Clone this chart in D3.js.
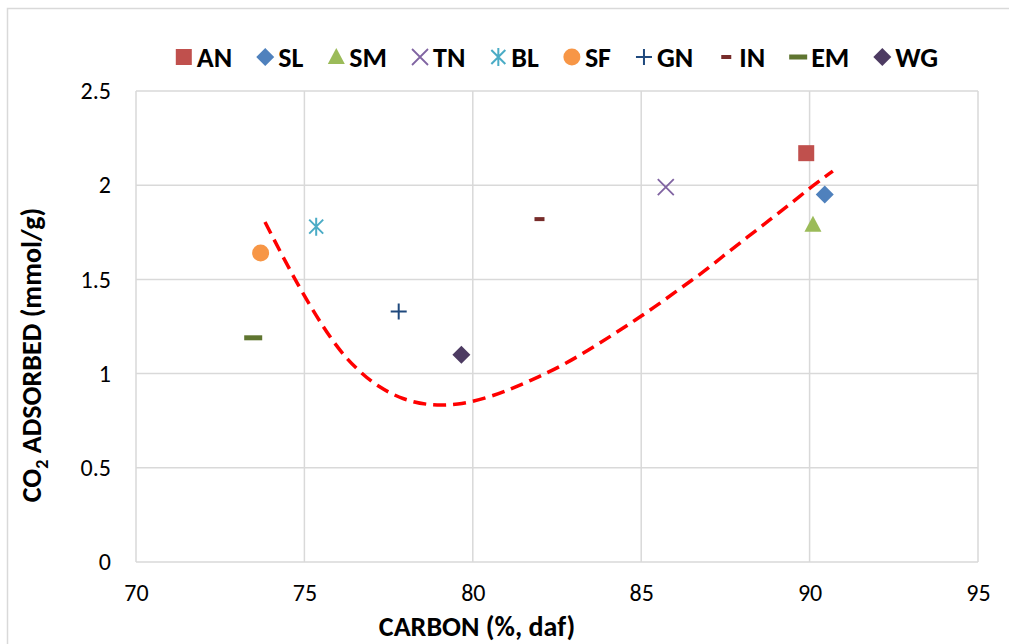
<!DOCTYPE html>
<html>
<head>
<meta charset="utf-8">
<script src="https://cdn.jsdelivr.net/npm/d3@7"></script>
<style>
  html, body { margin: 0; padding: 0; background: #fff; }
  svg { display: block; }
  text { font-family: Carlito, Lato, "Open Sans", sans-serif; fill: #000; }
</style>
</head>
<body>
<svg id="chart" width="1009" height="644"></svg>
<script>
// Sample codes, carbon content (% daf) and CO2 uptake (mmol/g)
const samples = ["AN", "SL", "SM", "TN", "BL", "SF", "GN", "IN", "EM", "WG"];
const carbon  = [89.9, 90.45, 90.1, 85.73, 75.35, 73.7, 77.8, 81.98, 73.48, 79.66];
const co2     = [2.17, 1.95, 1.79, 1.99, 1.78, 1.64, 1.33, 1.82, 1.19, 1.10];
const markerShapes = ["square", "diamond", "triangle", "cross", "star", "circle", "plus", "dash", "bar", "diamond"];
const markerColors = ["#C0504D", "#4F81BD", "#9BBB59", "#8064A2", "#4BACC6", "#F79646", "#1F497D", "#772C2A", "#5F7530", "#4D3B62"];

// Trend curve
const trendCarbon = [73.83, 74.79, 75.86, 76.57, 77.19, 77.94, 78.74, 79.54, 80.43, 81.21, 81.95, 82.69, 83.44, 84.15, 84.83, 85.49, 86.17, 86.85, 87.51, 88.16, 88.76, 89.35, 90.12, 90.69];
const trendCO2    = [1.805, 1.47, 1.157, 1.019, 0.929, 0.86, 0.83, 0.833, 0.87, 0.924, 0.982, 1.046, 1.125, 1.205, 1.285, 1.364, 1.454, 1.539, 1.635, 1.725, 1.808, 1.89, 2.001, 2.075];

const xTicks = [70, 75, 80, 85, 90, 95];
const yTicks = [0, 0.5, 1, 1.5, 2, 2.5];

const svg = d3.select("#chart");
const plot = { left: 136, right: 978, top: 91, bottom: 562 };

const x = d3.scaleLinear().domain([70, 95]).range([plot.left, plot.right]);
const y = d3.scaleLinear().domain([0, 2.5]).range([plot.bottom, plot.top]);

// Chart area frame
svg.append("rect")
  .attr("x", 7.5).attr("y", 8.5)
  .attr("width", 1020).attr("height", 660)
  .attr("fill", "none").attr("stroke", "#D9D9D9").attr("stroke-width", 1.5);

// Gridlines
const grid = svg.append("g").attr("stroke", "#D9D9D9").attr("stroke-width", 1.5);
grid.selectAll("line.h").data(yTicks).join("line")
  .attr("x1", plot.left).attr("x2", plot.right)
  .attr("y1", d => y(d)).attr("y2", d => y(d));
grid.selectAll("line.v").data(xTicks).join("line")
  .attr("y1", plot.top).attr("y2", plot.bottom)
  .attr("x1", d => x(d)).attr("x2", d => x(d));

// Axes (labels only; lines come from the grid)
const xAxis = svg.append("g")
  .attr("transform", `translate(0,${plot.bottom})`)
  .call(d3.axisBottom(x).tickValues(xTicks).tickSize(0).tickPadding(22).tickFormat(d3.format("d")));
const yAxis = svg.append("g")
  .attr("transform", `translate(${plot.left},0)`)
  .call(d3.axisLeft(y).tickValues(yTicks).tickSize(0).tickPadding(25).tickFormat(d => String(d)));
[xAxis, yAxis].forEach(a => {
  a.select(".domain").remove();
  a.selectAll("text").attr("font-size", 24).attr("fill", "#000")
    .style("font-family", "Carlito, Lato, sans-serif");
});

// Axis titles
svg.append("text")
  .attr("x", 477).attr("y", 636)
  .attr("text-anchor", "middle")
  .attr("font-size", 28).attr("font-weight", "bold")
  .text("CARBON (%, daf)");

const yTitle = svg.append("text")
  .attr("transform", "translate(41,355) rotate(-90)")
  .attr("text-anchor", "middle")
  .attr("font-size", 28).attr("font-weight", "bold");
yTitle.append("tspan").text("CO");
yTitle.append("tspan").attr("font-size", 18).attr("dy", 7).text("2");
yTitle.append("tspan").attr("dy", -7).text(" ADSORBED (mmol/g)");

// Marker drawing
function drawMarker(g, shape, color) {
  switch (shape) {
    case "square":
      g.append("rect").attr("x", -8).attr("y", -8).attr("width", 16).attr("height", 16).attr("fill", color);
      break;
    case "diamond":
      g.append("path").attr("d", "M0,-9L9,0L0,9L-9,0Z").attr("fill", color);
      break;
    case "triangle":
      g.append("path").attr("d", "M0,-9L8.5,7L-8.5,7Z").attr("fill", color);
      break;
    case "circle":
      g.append("circle").attr("r", 8.5).attr("fill", color);
      break;
    case "cross":
      g.append("path").attr("d", "M-8,-8L8,8M-8,8L8,-8").attr("stroke", color).attr("stroke-width", 1.8).attr("fill", "none");
      break;
    case "star":
      g.append("path").attr("d", "M-7,-7L7,7M-7,7L7,-7M0,-9L0,9").attr("stroke", color).attr("stroke-width", 2).attr("fill", "none");
      break;
    case "plus":
      g.append("path").attr("d", "M-8,0L8,0M0,-8L0,8").attr("stroke", color).attr("stroke-width", 2).attr("fill", "none");
      break;
    case "dash":
      g.append("rect").attr("x", -5).attr("y", -2).attr("width", 10).attr("height", 4).attr("fill", color);
      break;
    case "bar":
      g.append("rect").attr("x", -9).attr("y", -2.5).attr("width", 18).attr("height", 5).attr("fill", color);
      break;
  }
}

// Trend line
const trend = trendCarbon.map((c, i) => [c, trendCO2[i]]);
svg.append("path")
  .datum(trend)
  .attr("fill", "none")
  .attr("stroke", "#FF0000")
  .attr("stroke-width", 3.5)
  .attr("stroke-dasharray", "13,7")
  .attr("d", d3.line().x(d => x(d[0])).y(d => y(d[1])).curve(d3.curveBasis));

// Data points
samples.forEach((s, i) => {
  const g = svg.append("g").attr("transform", `translate(${x(carbon[i])},${y(co2[i])})`);
  drawMarker(g, markerShapes[i], markerColors[i]);
});

// Legend, laid out left to right and centred over the plot
const legend = svg.append("g");
const items = samples.map((s, i) => {
  const g = legend.append("g");
  drawMarker(g, markerShapes[i], markerColors[i]);
  const t = g.append("text").attr("x", 13).attr("y", 10)
    .attr("font-size", 28).attr("font-weight", "bold").text(s);
  return { g, w: t.node().getComputedTextLength() };
});
let cursor = 0;
const offsets = items.map(it => { const o = cursor; cursor += 13 + it.w + 33; return o; });
const total = cursor - 33 + 8;
const start = (plot.left + plot.right) / 2 - total / 2 + 8;
items.forEach((it, i) => it.g.attr("transform", `translate(${start + offsets[i]},57)`));
</script>
</body>
</html>
